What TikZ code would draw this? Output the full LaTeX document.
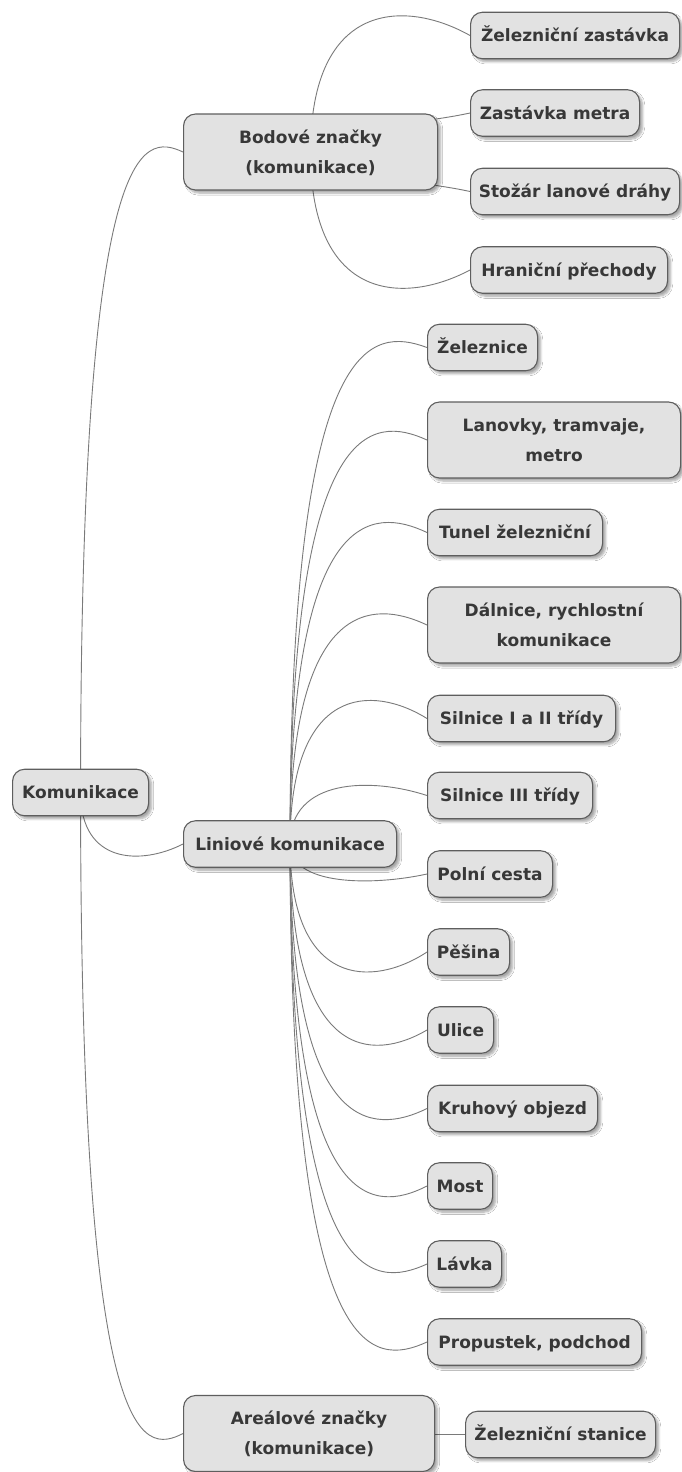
\documentclass[tikz,border=0pt]{standalone}
\usepackage{fontspec}
\setmainfont{DejaVu Sans}
\usetikzlibrary{backgrounds,shadows.blur,calc}

\definecolor{boxfill}{HTML}{E2E2E2}
\definecolor{boxline}{HTML}{5E5E5E}
\definecolor{boxtext}{HTML}{383838}
\definecolor{linkline}{HTML}{7A7A7A}

\tikzset{
  topic/.style={draw=boxline, line width=1.1pt, fill=boxfill, rounded corners=12pt,
    text=boxtext, font=\bfseries\fontsize{17}{30}\selectfont, align=center,
    anchor=west, minimum height=46.5pt, inner xsep=6pt, inner ysep=6pt,
    blur shadow={shadow xshift=3pt, shadow yshift=-3pt, shadow opacity=35,
      shadow blur steps=6}},
  tall/.style={minimum height=76pt},
  mmedge/.style={draw=linkline, line width=0.9pt},
}

% Branch from the centre of a parent topic to the west side of a child topic;
% #3 is how far the curve swings past the child's level before it arrives.
\newcommand\mmlink[3]{%
  \draw[mmedge] let \p1=(#1.center), \p2=(#2.west),
    \n1={ifthenelse(\y2>\y1,1,-1)*(#3)} in
    (\p1) .. controls (\x1,\y2+\n1*1pt) and ({\x1+0.6*(\x2-\x1)},\y2+\n1*1pt) .. (\p2);}

\begin{document}
\begin{tikzpicture}[x=1pt,y=-1pt]
\useasboundingbox (0,0) rectangle (681,1472);

% root
\node[topic, minimum width=136pt] (root) at (12,792.5) {\strut Komunikace};

% first level
\node[topic, tall, minimum width=254pt] (bod) at (183,152) {\strut Bodové značky\\\strut(komunikace)};
\node[topic, minimum width=213pt] (lin) at (183,844) {\strut Liniové komunikace};
\node[topic, tall, minimum width=251pt] (are) at (183,1433.5) {\strut Areálové značky\\\strut(komunikace)};

% point symbols
\node[topic, minimum width=209pt] (b1) at (470,35.5) {\strut Železniční zastávka};
\node[topic, minimum width=169pt] (b2) at (470,113) {\strut Zastávka metra};
\node[topic, minimum width=209pt] (b3) at (470,191.5) {\strut Stožár lanové dráhy};
\node[topic, minimum width=197pt] (b4) at (470,270) {\strut Hraniční přechody};

% line symbols
\node[topic, minimum width=110pt] (l1) at (427,347.5) {\strut Železnice};
\node[topic, tall, minimum width=253pt] (l2) at (427,440) {\strut Lanovky, tramvaje,\\\strut metro};
\node[topic, minimum width=175pt] (l3) at (427,532.5) {\strut Tunel železniční};
\node[topic, tall, minimum width=253pt] (l4) at (427,625) {\strut Dálnice, rychlostní\\\strut komunikace};
\node[topic, minimum width=188pt] (l5) at (427,718.5) {\strut Silnice I a II třídy};
\node[topic, minimum width=165pt] (l6) at (427,795.5) {\strut Silnice III třídy};
\node[topic, minimum width=125pt] (l7) at (427,874) {\strut Polní cesta};
\node[topic, minimum width=82pt] (l8) at (427,952) {\strut Pěšina};
\node[topic, minimum width=66pt] (l9) at (427,1030) {\strut Ulice};
\node[topic, minimum width=170pt] (l10) at (427,1108.5) {\strut Kruhový objezd};
\node[topic, minimum width=65pt] (l11) at (427,1186) {\strut Most};
\node[topic, minimum width=74pt] (l12) at (427,1264) {\strut Lávka};
\node[topic, minimum width=214pt] (l13) at (427,1342) {\strut Propustek, podchod};

% area symbols
\node[topic, minimum width=190pt] (a1) at (465,1434.5) {\strut Železniční stanice};

\begin{scope}[on background layer]
  \fill[white] (0,0) rectangle (681,1472);
  \mmlink{root}{bod}{19}
  \mmlink{root}{lin}{21}
  \mmlink{root}{are}{21}

  \mmlink{bod}{b1}{36}
  \mmlink{bod}{b2}{-14}
  \mmlink{bod}{b3}{-14}
  \mmlink{bod}{b4}{34}

  \mmlink{lin}{l1}{20}
  \mmlink{lin}{l2}{25}
  \mmlink{lin}{l3}{26}
  \mmlink{lin}{l4}{26}
  \mmlink{lin}{l5}{34}
  \mmlink{lin}{l6}{18}
  \mmlink{lin}{l7}{12}
  \mmlink{lin}{l8}{36}
  \mmlink{lin}{l9}{32}
  \mmlink{lin}{l10}{27}
  \mmlink{lin}{l11}{28}
  \mmlink{lin}{l12}{25}
  \mmlink{lin}{l13}{25}

  \mmlink{are}{a1}{0}
\end{scope}
\end{tikzpicture}
\end{document}
